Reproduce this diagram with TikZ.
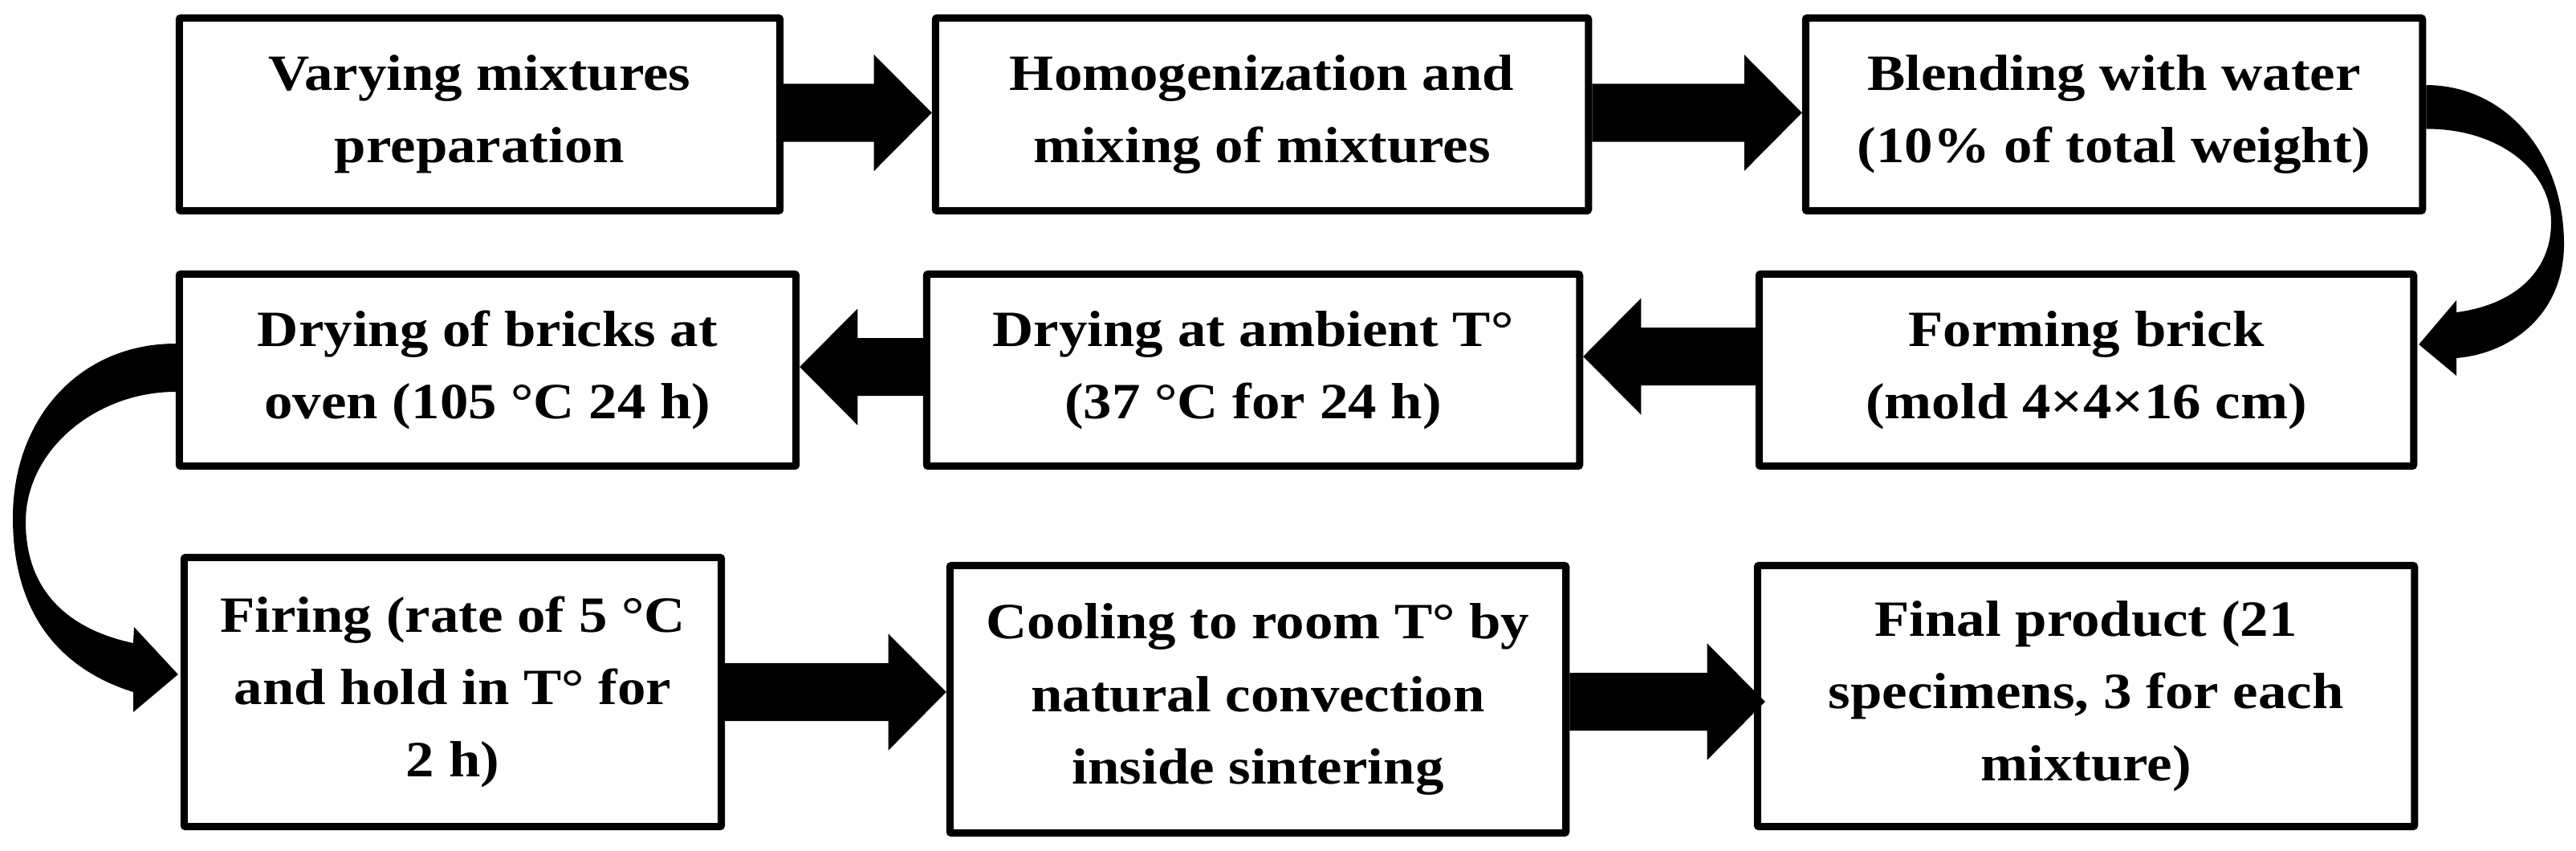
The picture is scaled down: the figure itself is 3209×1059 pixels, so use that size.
\documentclass[tikz,border=0pt]{standalone}
\usepackage{fontspec}
\setmainfont{Liberation Serif}[FakeStretch=1.12]
\usetikzlibrary{calc}
% straight block arrow: #1 tail point, #2 tip point, #3 direction (1 right, -1 left)
\newcommand\blockarrow[3]{%
  \fill let \p1=(#1), \p2=(#2) in
    (\x1,\y1+0.36cm) -- (\x2-#3*0.72cm,\y1+0.36cm) -- (\x2-#3*0.72cm,\y1+0.725cm)
    -- (\x2,\y1) -- (\x2-#3*0.72cm,\y1-0.725cm) -- (\x2-#3*0.72cm,\y1-0.36cm)
    -- (\x1,\y1-0.36cm) -- cycle;}
\begin{document}
\begin{tikzpicture}[x=0.01cm,y=-0.01cm,
  box/.style={draw, line width=0.09cm, rectangle, rounded corners=0.02cm,
    align=center, inner sep=0pt,
    font=\bfseries\fontsize{18}{25.6}\selectfont}]
\useasboundingbox (0,0) rectangle (3209,1059);

% row 1
\node[box, minimum width=7.48cm, minimum height=2.40cm] (b1) at (597.5,142.5)
  {Varying mixtures\\preparation};
\node[box, minimum width=8.13cm, minimum height=2.40cm] (b2) at (1572,142.5)
  {Homogenization and\\mixing of mixtures};
\node[box, minimum width=7.68cm, minimum height=2.40cm] (b3) at (2633.5,142.5)
  {Blending with water\\(10\% of total weight)};
% row 2
\node[box, minimum width=7.68cm, minimum height=2.39cm] (b4) at (607.5,461)
  {Drying of bricks at\\oven (105 °C 24 h)};
\node[box, minimum width=8.13cm, minimum height=2.39cm] (b5) at (1561,461)
  {Drying at ambient T°\\(37 °C for 24 h)};
\node[box, minimum width=8.15cm, minimum height=2.39cm] (b6) at (2599,461)
  {Forming brick\\(mold 4×4×16 cm)};
% row 3
\node[box, minimum width=6.69cm, minimum height=3.35cm] (b7) at (564,862)
  {Firing (rate of 5 °C\\and hold in T° for\\2 h)};
\node[box, minimum width=7.67cm, minimum height=3.33cm] (b8) at (1567,871)
  {Cooling to room T° by\\natural convection\\inside sintering};
\node[box, minimum width=8.18cm, minimum height=3.25cm] (b9) at (2598.5,867)
  {Final product (21\\specimens, 3 for each\\mixture)};

% straight arrows
\blockarrow{$(b1.east)+(0,-2)$}{$(b1.east -| b2.west)+(0,-2)$}{1}
\blockarrow{$(b2.east)+(0,-2)$}{$(b2.east -| b3.west)+(0,-2)$}{1}
\blockarrow{$(b5.west)+(0,-4)$}{$(b5.west -| b4.east)+(0,-4)$}{-1}
\blockarrow{$(b6.west)+(0,-17)$}{$(b6.west -| b5.east)+(0,-17)$}{-1}
\blockarrow{b7.east}{b7.east -| b8.west}{1}
\blockarrow{$(b8.east)+(0,3)$}{$(b8.east -| b9.west)+(14,3)$}{1}

% curved arrow b3 -> b6
\fill ($(b3.east)+(0,-36.5)$) .. controls (3120,106) and (3194,190) .. (3194,304)
  .. controls (3194,390) and (3130,440) .. (3060,446) -- (3060,468)
  -- ($(b6.east)+(2,-32)$) -- (3060,374) -- (3060,389)
  .. controls (3130,380) and (3178,340) .. (3178,277)
  .. controls (3178,210) and (3110,160) .. ($(b3.east)+(0,18)$) -- cycle;

% curved arrow b4 -> b7
\fill ($(b4.west)+(0,-33)$) .. controls (100,428) and (16,520) .. (16,645)
  .. controls (16,770) and (80,835) .. (166,862) -- (166,887)
  -- ($(b7.west)+(-3,-22)$) -- (167,781) -- (166,801)
  .. controls (90,785) and (32,740) .. (32,650)
  .. controls (32,560) and (120,488) .. ($(b4.west)+(0,27)$) -- cycle;
\end{tikzpicture}
\end{document}
